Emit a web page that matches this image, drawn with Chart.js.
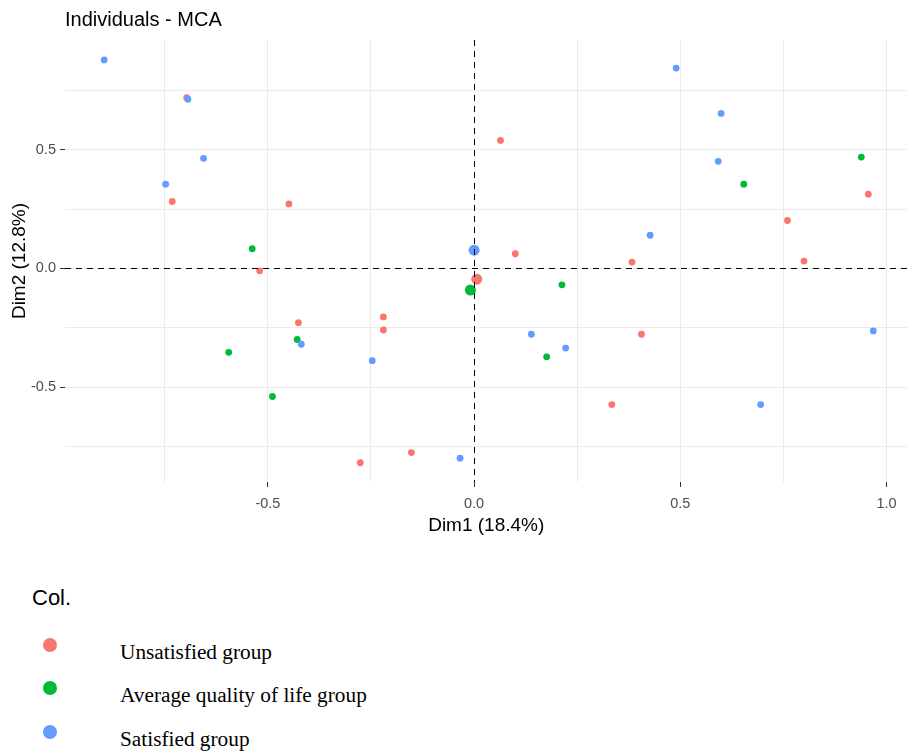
<!DOCTYPE html>
<html>
<head>
<meta charset="utf-8">
<script src="https://cdn.jsdelivr.net/npm/chart.js@4/dist/chart.umd.min.js"></script>
<style>
  body { margin: 0; background: #fff; overflow: hidden; }
  #wrap { position: relative; width: 908px; height: 753px; overflow: hidden; }
  #mca { position: absolute; left: 0; top: 0; }
  .legend-title { position: absolute; left: 32px; top: 585px; font: 22px "Liberation Sans", Arial, sans-serif; color: #000; }
  .key { position: absolute; left: 43px; width: 14px; height: 14px; border-radius: 50%; }
  .lab { position: absolute; left: 120px; font: 21.3px "Liberation Serif", "Times New Roman", serif; color: #000; line-height: 24px; }
</style>
</head>
<body>
<div id="wrap">
  <!-- a few px wider than the page: Chart.js keeps a small gap on the right -->
  <canvas id="mca" width="913" height="545"></canvas>
  <div id="legend"></div>
</div>
<script>
// coordinates
const groups = ["Unsatisfied group", "Average quality of life group", "Satisfied group"];
const colors = ["#F8766D", "#00BA38", "#619CFF"];

const unsatX = [-0.697, -0.732, -0.449, 0.064, 0.100, -0.520, -0.426, -0.220, -0.220, -0.276, -0.152, 0.383, 0.800, 0.406, 0.334, 0.760, 0.956];
const unsatY = [0.719, 0.282, 0.272, 0.539, 0.062, -0.010, -0.228, -0.204, -0.259, -0.818, -0.775, 0.027, 0.031, -0.277, -0.573, 0.202, 0.313];
const unsatMean = [0.0065, -0.045];

const avgX = [-0.538, -0.595, -0.489, -0.429, 0.213, 0.176, 0.654, 0.939];
const avgY = [0.083, -0.353, -0.539, -0.299, -0.069, -0.372, 0.355, 0.469];
const avgMean = [-0.009, -0.091];

const satX = [-0.897, -0.694, -0.656, -0.748, -0.419, -0.247, -0.034, 0.139, 0.222, 0.490, 0.599, 0.592, 0.427, 0.695, 0.968];
const satY = [0.878, 0.713, 0.464, 0.355, -0.319, -0.388, -0.799, -0.277, -0.335, 0.844, 0.653, 0.451, 0.140, -0.573, -0.263];
const satMean = [0.0, 0.077];

const xTicks = [-0.75, -0.5, -0.25, 0, 0.25, 0.5, 0.75, 1.0];
const yTicks = [-0.75, -0.5, -0.25, 0, 0.25, 0.5, 0.75];
const xLabelled = [-0.5, 0, 0.5, 1.0];
const yLabelled = [-0.5, 0, 0.5];

const chartTitle = "Individuals - MCA";
const xTitle = "Dim1 (18.4%)";
const yTitle = "Dim2 (12.8%)";

function pts(xs, ys) {
  return xs.map((x, i) => ({ x: x, y: ys[i] }));
}

const sets = [
  [unsatX, unsatY, unsatMean],
  [avgX, avgY, avgMean],
  [satX, satY, satMean],
];

const datasets = [];
sets.forEach((s, i) => {
  datasets.push({
    label: groups[i],
    data: pts(s[0], s[1]),
    backgroundColor: colors[i],
    borderWidth: 0,
    pointRadius: 3.4,
    order: 10 - i,
  });
  datasets.push({
    label: groups[i] + " mean",
    data: [{ x: s[2][0], y: s[2][1] }],
    backgroundColor: colors[i],
    borderWidth: 0,
    pointRadius: 5.5,
    order: 5 - i,
  });
});

const extras = {
  id: "extras",
  afterDatasetsDraw(chart) {
    const { ctx, chartArea: a, scales } = chart;
    // snap to the pixel grid so the dashes stay crisp
    const x0 = Math.round(scales.x.getPixelForValue(0)) + 0.5;
    const y0 = Math.round(scales.y.getPixelForValue(0)) + 0.5;
    ctx.save();
    ctx.strokeStyle = "#000";
    ctx.lineWidth = 1;
    ctx.setLineDash([6, 5]);
    ctx.beginPath();
    ctx.moveTo(x0, a.top);
    ctx.lineTo(x0, a.bottom);
    ctx.moveTo(a.left, y0);
    ctx.lineTo(a.right, y0);
    ctx.stroke();
    ctx.restore();
  },
  afterDraw(chart) {
    const { ctx, chartArea: a } = chart;
    ctx.save();
    ctx.fillStyle = "#000";
    ctx.font = '20px "Liberation Sans", Arial, sans-serif';
    ctx.textBaseline = "alphabetic";
    ctx.fillText(chartTitle, a.left, 26);
    ctx.restore();
  },
};

const tickFont = { family: '"Liberation Sans", Arial, sans-serif', size: 14.5 };
const titleFont = { family: '"Liberation Sans", Arial, sans-serif', size: 19 };

new Chart(document.getElementById("mca"), {
  type: "scatter",
  data: { datasets: datasets },
  options: {
    responsive: false,
    animation: false,
    layout: { padding: { top: 40, right: 0, left: 0, bottom: 0 } },
    plugins: { legend: { display: false }, tooltip: { enabled: false } },
    scales: {
      x: {
        type: "linear",
        min: -0.992,
        max: 1.051,
        afterBuildTicks: (s) => { s.ticks = xTicks.map((v) => ({ value: v })); },
        afterFit: (s) => { s.height = 63; },
        border: { display: false },
        grid: {
          color: "#EBEBEB",
          lineWidth: 1,
          tickLength: 5,
          tickColor: (c) => (c.tick && xLabelled.includes(c.tick.value) ? "#333333" : "rgba(0,0,0,0)"),
        },
        ticks: {
          autoSkip: false,
          maxRotation: 0,
          padding: 8,
          color: "#4D4D4D",
          font: tickFont,
          callback: (v) => (xLabelled.includes(v) ? v.toFixed(1) : ""),
        },
        title: { display: true, text: xTitle, color: "#000", font: titleFont, padding: { top: 0, bottom: 8 } },
      },
      y: {
        type: "linear",
        min: -0.899,
        max: 0.962,
        afterBuildTicks: (s) => { s.ticks = yTicks.map((v) => ({ value: v })); },
        afterFit: (s) => { s.width = 65; },
        border: { display: false },
        grid: {
          color: "#EBEBEB",
          lineWidth: 1,
          tickLength: 5,
          tickColor: (c) => (c.tick && yLabelled.includes(c.tick.value) ? "#333333" : "rgba(0,0,0,0)"),
        },
        ticks: {
          autoSkip: false,
          padding: 4,
          color: "#4D4D4D",
          font: tickFont,
          callback: (v) => (yLabelled.includes(v) ? v.toFixed(1) : ""),
        },
        title: { display: true, text: yTitle, color: "#000", font: titleFont, padding: { top: 8, bottom: 0 } },
      },
    },
  },
  plugins: [extras],
});

// legend below the plot
const legend = document.getElementById("legend");
const head = document.createElement("div");
head.className = "legend-title";
head.textContent = "Col.";
legend.appendChild(head);
const keyTops = [638, 681, 725];
groups.forEach((g, i) => {
  const k = document.createElement("div");
  k.className = "key";
  k.style.top = keyTops[i] + "px";
  k.style.background = colors[i];
  legend.appendChild(k);
  const t = document.createElement("div");
  t.className = "lab";
  t.style.top = (keyTops[i] + 2) + "px";
  t.textContent = g;
  legend.appendChild(t);
});
</script>
</body>
</html>
